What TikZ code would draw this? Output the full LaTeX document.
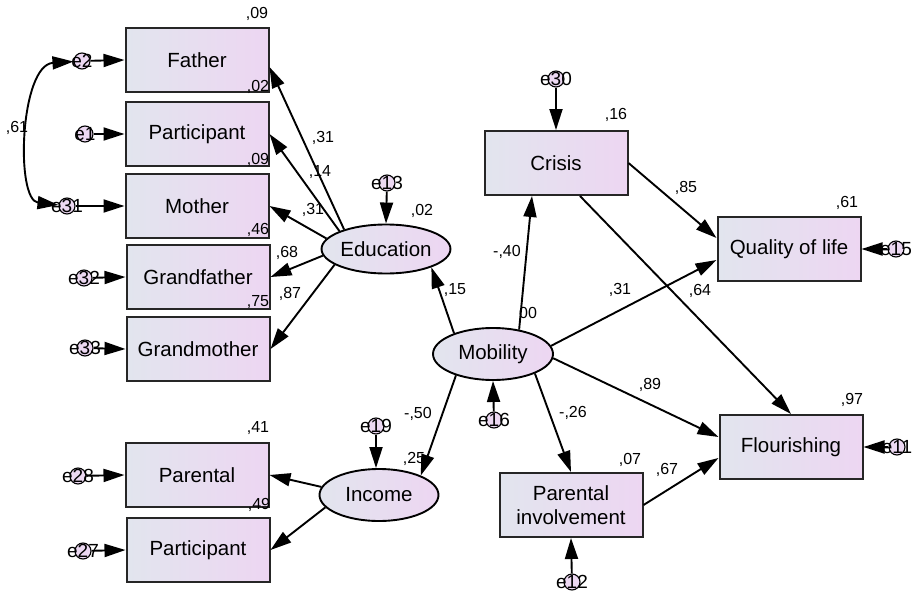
\documentclass[tikz,border=0pt]{standalone}
\usepackage{fontspec}
\setmainfont{Liberation Sans}
\usetikzlibrary{arrows.meta,shapes.geometric}
\definecolor{cl}{RGB}{226,229,238}
\definecolor{cr}{RGB}{237,214,242}
\definecolor{ef}{RGB}{236,216,242}
\begin{document}
\begin{tikzpicture}[x=1pt,y=-1pt,
 box/.style={draw=black!85,line width=2pt,minimum width=143pt,minimum height=64pt,inner sep=0pt,left color=cl,right color=cr,font=\fontsize{20.5}{24}\selectfont,align=center},
 lat/.style={ellipse,draw=black,line width=1.9pt,inner sep=0pt,left color=cl,right color=cr,font=\fontsize{20.5}{24}\selectfont},
 err/.style={circle,draw=black,line width=1.1pt,fill=ef,minimum size=16pt,inner sep=0pt},
 elab/.style={font=\fontsize{19}{19}\selectfont,inner sep=0pt},
 num/.style={font=\fontsize{16}{16}\selectfont,inner sep=0pt},
 arr/.style={line width=1.9pt,-{Triangle[length=21pt,width=13pt]}},
 cov/.style={line width=1.9pt,{Triangle[length=21pt,width=13pt]}-{Triangle[length=21pt,width=13pt]}},
]
\useasboundingbox (0,0) rectangle (916,594);
% observed boxes
\node[box] (father) at (197,60) {Father};
\node[box] (part1) at (197,134) {Participant};
\node[box] (mother) at (197,206) {Mother};
\node[box] (gf) at (198,277) {Grandfather};
\node[box] (gm) at (198,349) {Grandmother};
\node[box] (par) at (197,475) {Parental};
\node[box] (part2) at (198,550) {Participant};
\node[box] (crisis) at (556,163) {Crisis};
\node[box] (qol) at (789,249) {Quality of life};
\node[box] (flo) at (791,447) {Flourishing};
\node[box] (pi) at (571,505) {Parental\\involvement};
% latent ellipses
\node[lat,minimum width=122pt,minimum height=49pt] (edu) at (386,249) {Education};
\node[lat,minimum width=119pt,minimum height=52pt] (inc) at (379,495) {Income};
\node[lat,minimum width=120pt,minimum height=52pt] (mob) at (493,354) {Mobility};
% error circles
\node[err] (ce2) at (82,61) {};
\node[err] (ce1) at (85,134) {};
\node[err] (ce31) at (67,206) {};
\node[err] (ce32) at (84,278) {};
\node[err] (ce33) at (85,348) {};
\node[err] (ce28) at (78,476) {};
\node[err] (ce27) at (83,551) {};
\node[err] (ce13) at (387,183) {};
\node[err] (ce19) at (376,426) {};
\node[err] (ce30) at (556,79) {};
\node[err] (ce15) at (896,249) {};
\node[err] (ce16) at (494,420) {};
\node[err] (ce11) at (897,447) {};
\node[err] (ce12) at (572,582) {};
% error arrows
\draw[arr] (ce2) -- (father.west);
\draw[arr] (ce1) -- (part1.west);
\draw[arr] (ce31) -- (mother.west);
\draw[arr] (ce32) -- (gf.west);
\draw[arr] (ce33) -- (gm.west);
\draw[arr] (ce28) -- (par.west);
\draw[arr] (ce27) -- (part2.west);
\draw[arr] (ce13) -- (edu.north);
\draw[arr] (ce19) -- (ce19 |- inc.north);
\draw[arr] (ce30) -- (crisis.north);
\draw[arr] (ce15) -- (qol.east);
\draw[arr] (ce16) -- (mob.south);
\draw[arr] (ce11) -- (flo.east);
\draw[arr] (ce12) -- (pi.south);
\draw[cov] (ce2) .. controls (20,65) and (15,200) .. (ce31);
% structural arrows
\draw[arr] (edu.155) -- ([yshift=-7pt]father.east);
\draw[arr] (edu.159) -- (part1.east);
\draw[arr] (edu.170) -- (mother.east);
\draw[arr] (edu.186) -- (gf.east);
\draw[arr] (edu.197) -- (gm.east);
\draw[arr] (inc.172) -- (par.east);
\draw[arr] (inc.193) -- (part2.east);
\draw[arr] (mob.152) -- (edu.-22);
\draw[arr] (mob.43) -- ([xshift=-24pt]crisis.south);
\draw[arr] (mob.8) -- ([yshift=-11pt]qol.west);
\draw[arr] (mob.-4) -- ([yshift=10pt]flo.west);
\draw[arr] (mob.-25) -- (pi.north);
\draw[arr] (mob.210) -- (inc.25);
\draw[arr] (crisis.east) -- ([yshift=11pt]qol.west);
\draw[arr] ([xshift=24pt]crisis.south) -- (flo.north);
\draw[arr] (pi.east) -- ([yshift=-11pt]flo.west);
% error labels
\node[elab] (te2) at (ce2) {e2};
\node[elab] (te1) at (ce1) {e1};
\node[elab] (te31) at (ce31) {e31};
\node[elab] (te32) at (ce32) {e32};
\node[elab] (te33) at (ce33) {e33};
\node[elab] (te28) at (ce28) {e28};
\node[elab] (te27) at (ce27) {e27};
\node[elab] (te13) at (ce13) {e13};
\node[elab] (te19) at (ce19) {e19};
\node[elab] (te30) at (ce30) {e30};
\node[elab] (te15) at (ce15) {e15};
\node[elab] (te16) at (ce16) {e16};
\node[elab] (te11) at (ce11) {e11};
\node[elab] (te12) at (ce12) {e12};
% numbers
\node[num] (n1) at (257,14) {,09};
\node[num] (n2) at (258,87) {,02};
\node[num] (n3) at (258,160) {,09};
\node[num] (n4) at (258,230) {,46};
\node[num] (n5) at (287,253) {,68};
\node[num] (n6) at (258,302) {,75};
\node[num] (n7) at (290,294) {,87};
\node[num] (n8) at (313,210) {,31};
\node[num] (n9) at (323,138) {,31};
\node[num] (n10) at (320,172) {,14};
\node[num] (n11) at (422,211) {,02};
\node[num] (n12) at (455,290) {,15};
\node[num] (n13) at (258,428) {,41};
\node[num] (n14) at (259,505) {,49};
\node[num] (n15) at (414,459) {,25};
\node[num] (n16) at (616,115) {,16};
\node[num] (n17) at (847,203) {,61};
\node[num] (n18) at (852,400) {,97};
\node[num] (n19) at (630,460) {,07};
\node[num] (n20) at (418,414) {-,50};
\node[num] (n21) at (507,252) {-,40};
\node[num] (n22) at (528,313) {00};
\node[num] (n23) at (620,290) {,31};
\node[num] (n24) at (700,291) {,64};
\node[num] (n25) at (686,188) {,85};
\node[num] (n26) at (650,385) {,89};
\node[num] (n27) at (573,413) {-,26};
\node[num] (n28) at (667,470) {,67};
\node[num] (n29) at (17,128) {,61};
\end{tikzpicture}
\end{document}
